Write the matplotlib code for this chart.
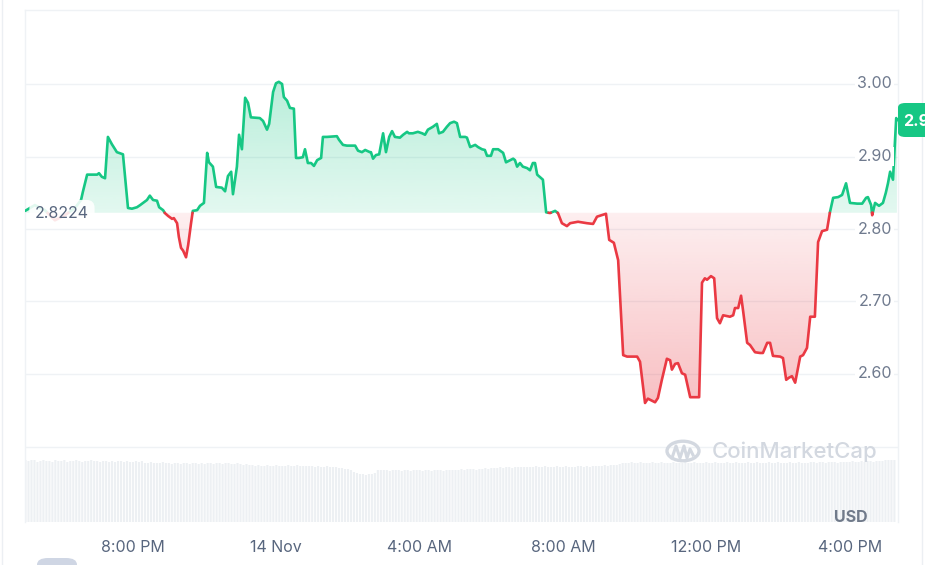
import numpy as np
import matplotlib
matplotlib.use("Agg")
import matplotlib.pyplot as plt
from matplotlib.path import Path
from matplotlib.patches import FancyBboxPatch, Circle
from matplotlib.lines import Line2D

plt.rcParams['font.family'] = ['Inter', 'DejaVu Sans']

# price data, time in hours since 13 Nov 00:00
times = [16.99, 17.26, 17.54, 17.82, 18.10, 18.38, 18.55, 18.60, 18.72, 19.00,
         19.05, 19.13, 19.22, 19.30, 19.41, 19.55, 19.72, 19.86, 19.97, 20.11,
         20.20, 20.28, 20.39, 20.47, 20.56, 20.67, 20.73, 20.84, 20.89, 20.98,
         21.09, 21.14, 21.23, 21.28, 21.34, 21.40, 21.48, 21.54, 21.62, 21.67,
         21.79, 21.87, 21.98, 22.07, 22.12, 22.23, 22.32, 22.48, 22.57, 22.65,
         22.74, 22.79, 22.90, 22.96, 23.04, 23.13, 23.21, 23.29, 23.54, 23.63,
         23.74, 23.80, 23.91, 23.99, 24.07, 24.16, 24.21, 24.30, 24.38, 24.49,
         24.55, 24.63, 24.74, 24.80, 24.88, 24.97, 25.05, 25.14, 25.25, 25.30,
         25.41, 25.69, 25.75, 25.86, 25.97, 26.20, 26.28, 26.39, 26.48, 26.61,
         26.64, 26.70, 26.78, 26.87, 26.98, 27.06, 27.15, 27.23, 27.31, 27.45,
         27.54, 27.65, 27.70, 27.81, 27.95, 28.07, 28.15, 28.23, 28.37, 28.48,
         28.54, 28.65, 28.76, 28.85, 28.96, 29.04, 29.13, 29.27, 29.32, 29.41,
         29.55, 29.63, 29.74, 29.82, 29.88, 29.99, 30.05, 30.19, 30.33, 30.41,
         30.49, 30.61, 30.66, 30.72, 30.80, 30.88, 31.00, 31.08, 31.16, 31.22,
         31.28, 31.44, 31.53, 31.64, 31.78, 31.86, 31.97, 32.11, 32.20, 32.42,
         32.67, 32.84, 32.95, 33.20, 33.29, 33.42, 33.54, 33.68, 33.79, 34.07,
         34.15, 34.29, 34.37, 34.57, 34.65, 34.76, 34.90, 34.99, 35.04, 35.13,
         35.21, 35.32, 35.41, 35.55, 35.80, 35.88, 35.96, 36.02, 36.13, 36.22,
         36.30, 36.38, 36.47, 36.66, 36.75, 36.80, 36.89, 36.97, 37.03, 37.14,
         37.22, 37.36, 37.50, 37.58, 37.70, 37.78, 37.86, 38.06, 38.14, 38.23,
         38.31, 38.39, 38.48, 38.62, 38.70, 38.81, 38.90, 39.03, 39.12, 39.23,
         39.37, 39.45, 39.54, 39.68, 39.79, 39.90, 40.01, 40.21, 40.35, 40.46,
         40.51, 40.60, 40.63, 40.71, 40.82, 40.93, 41.01, 41.07, 41.13, 41.21,
         41.30, 41.32]

prices = [2.825, 2.833, 2.826, 2.812, 2.819, 2.829, 2.840, 2.851, 2.875, 2.875,
          2.877, 2.872, 2.870, 2.927, 2.917, 2.906, 2.903, 2.829, 2.828, 2.830,
          2.833, 2.836, 2.840, 2.846, 2.840, 2.839, 2.830, 2.826, 2.822, 2.818,
          2.814, 2.815, 2.808, 2.789, 2.774, 2.770, 2.761, 2.778, 2.808, 2.825,
          2.826, 2.832, 2.836, 2.905, 2.892, 2.886, 2.858, 2.857, 2.852, 2.873,
          2.879, 2.848, 2.886, 2.930, 2.910, 2.981, 2.974, 2.954, 2.953, 2.949,
          2.937, 2.945, 2.989, 3.001, 3.003, 3.000, 2.982, 2.977, 2.967, 2.966,
          2.898, 2.898, 2.899, 2.910, 2.891, 2.891, 2.887, 2.895, 2.898, 2.927,
          2.927, 2.928, 2.923, 2.916, 2.915, 2.915, 2.908, 2.906, 2.909, 2.906,
          2.906, 2.897, 2.902, 2.903, 2.932, 2.906, 2.927, 2.935, 2.927, 2.926,
          2.930, 2.934, 2.932, 2.932, 2.934, 2.932, 2.930, 2.937, 2.941, 2.945,
          2.932, 2.934, 2.941, 2.946, 2.948, 2.946, 2.927, 2.927, 2.926, 2.913,
          2.916, 2.913, 2.910, 2.909, 2.901, 2.901, 2.910, 2.910, 2.905, 2.892,
          2.894, 2.897, 2.895, 2.886, 2.891, 2.886, 2.884, 2.881, 2.891, 2.891,
          2.875, 2.868, 2.823, 2.822, 2.825, 2.822, 2.808, 2.804, 2.808, 2.810,
          2.808, 2.807, 2.817, 2.821, 2.785, 2.781, 2.757, 2.626, 2.624, 2.624,
          2.617, 2.560, 2.566, 2.561, 2.567, 2.592, 2.621, 2.619, 2.606, 2.614,
          2.615, 2.601, 2.599, 2.568, 2.568, 2.726, 2.732, 2.730, 2.735, 2.732,
          2.677, 2.670, 2.681, 2.679, 2.681, 2.691, 2.691, 2.708, 2.686, 2.643,
          2.640, 2.630, 2.629, 2.629, 2.643, 2.643, 2.625, 2.624, 2.622, 2.592,
          2.595, 2.597, 2.588, 2.624, 2.626, 2.636, 2.679, 2.679, 2.782, 2.797,
          2.799, 2.823, 2.843, 2.844, 2.847, 2.863, 2.836, 2.835, 2.835, 2.843,
          2.844, 2.833, 2.819, 2.836, 2.832, 2.836, 2.850, 2.863, 2.879, 2.868,
          2.953, 2.950]

open_price = 2.8224

# 5-minute volume bars (relative units)
volume = [6.2, 6.1, 6.2, 6.2, 6.0, 6.1, 6.2, 6.1, 6.1, 6.0, 6.2, 6.1, 6.1, 6.2, 6.0, 6.1, 6.1, 6.2, 6.1, 6.0, 6.1, 6.1, 6.2, 6.1,
          6.1, 6.0, 6.1, 6.1, 6.0, 6.1, 6.0, 6.1, 6.1, 6.0, 6.1, 6.0, 6.0, 6.1, 6.0, 6.1, 5.9, 5.9, 6.0, 5.9, 5.9, 5.9, 6.0, 5.9,
          5.9, 5.8, 5.9, 5.9, 5.8, 5.9, 5.9, 5.8, 5.9, 5.9, 5.8, 5.9, 5.8, 5.9, 5.9, 5.8, 5.9, 5.9, 5.8, 5.9, 5.9, 5.8, 5.8, 5.9,
          5.8, 5.7, 5.8, 5.7, 5.7, 5.6, 5.7, 5.6, 5.6, 5.7, 5.6, 5.6, 5.7, 5.6, 5.6, 5.6, 5.7, 5.6, 5.6, 5.7, 5.6, 5.6, 5.6, 5.6,
          5.6, 5.5, 5.6, 5.5, 5.5, 5.6, 5.5, 5.5, 5.5, 5.4, 5.4, 5.3, 5.3, 5.2, 5.0, 4.9, 4.8, 4.8, 4.7, 4.8, 4.8, 4.9, 5.2, 5.2,
          5.2, 5.2, 5.1, 5.2, 5.2, 5.2, 5.1, 5.2, 5.2, 5.1, 5.2, 5.2, 5.2, 5.1, 5.2, 5.2, 5.1, 5.2, 5.2, 5.2, 5.1, 5.2, 5.2, 5.2,
          5.2, 5.2, 5.3, 5.2, 5.3, 5.3, 5.3, 5.2, 5.3, 5.3, 5.4, 5.3, 5.4, 5.4, 5.4, 5.5, 5.4, 5.5, 5.5, 5.4, 5.5, 5.5, 5.5, 5.5,
          5.5, 5.5, 5.5, 5.6, 5.5, 5.5, 5.6, 5.5, 5.5, 5.5, 5.6, 5.5, 5.5, 5.6, 5.5, 5.5, 5.5, 5.6, 5.6, 5.5, 5.6, 5.5, 5.6, 5.6,
          5.6, 5.6, 5.7, 5.6, 5.7, 5.7, 5.7, 5.8, 5.9, 5.9, 5.9, 6.0, 5.9, 5.9, 6.0, 5.9, 5.9, 5.9, 6.0, 5.9, 5.9, 6.0, 5.9, 5.9,
          5.9, 6.0, 5.9, 5.9, 5.9, 6.0, 5.9, 5.9, 6.0, 5.9, 5.9, 5.9, 6.0, 5.9, 5.9, 6.0, 5.9, 5.9, 5.9, 6.0, 5.9, 5.9, 6.0, 5.9,
          5.9, 5.9, 6.0, 5.9, 5.9, 6.0, 5.9, 5.9, 5.9, 6.0, 5.9, 5.9, 6.0, 5.9, 5.9, 5.9, 6.0, 5.9, 5.9, 6.0, 5.9, 5.9, 5.9, 6.0,
          6.0, 5.9, 6.0, 6.0, 5.9, 6.0, 6.0, 6.0, 5.9, 6.0, 6.0, 6.0, 6.0, 6.1, 6.0, 6.0, 6.1, 6.0, 6.1, 6.1, 6.0, 6.1, 6.1, 6.1,
          6.2, 6.2, 6.2, 6.2]
volume_start = 17.0

y_ticks = [2.60, 2.70, 2.80, 2.90, 3.00]
y_grid = [2.50, 2.60, 2.70, 2.80, 2.90, 3.00]
x_ticks = [20, 24, 28, 32, 36, 40]
x_labels = ["8:00 PM", "14 Nov", "4:00 AM", "8:00 AM", "12:00 PM", "4:00 PM"]

GREEN = '#16c784'
RED = '#ea3943'
GRID = '#eff2f5'
W, H = 925, 565


def fx(px):
    return px / W


def fy(py):
    return 1 - py / H


def split_at_base(t, p, base):
    # add the crossing points so the line can switch colour exactly at the base
    tt, pp = [t[0]], [p[0]]
    for i in range(1, len(t)):
        a, b = p[i - 1] - base, p[i] - base
        if a * b < 0:
            f = a / (a - b)
            tt.append(t[i - 1] + f * (t[i] - t[i - 1]))
            pp.append(base)
        tt.append(t[i])
        pp.append(p[i])
    return np.array(tt), np.array(pp)


def gradient_fill(ax, t, lo, hi, color, a_lo, a_hi, ylo, yhi):
    poly = ax.fill_between(t, lo, hi, facecolor='none', edgecolor='none')
    path = Path.make_compound_path(*poly.get_paths())
    rgba = np.zeros((256, 1, 4))
    rgba[..., :3] = matplotlib.colors.to_rgb(color)
    rgba[:, 0, 3] = np.linspace(a_lo, a_hi, 256)
    im = ax.imshow(rgba, extent=[t[0], t[-1], ylo, yhi], origin='lower',
                   aspect='auto', interpolation='bilinear', zorder=1)
    im.set_clip_path(path, transform=ax.transData)


fig = plt.figure(figsize=(9.25, 5.65), dpi=100)

x0, x1 = 16.986, 41.35
ax_left, ax_right, ax_top, ax_bot = 25, 898, 9.5, 522

# volume axes
axv = fig.add_axes([fx(ax_left), fy(ax_bot), fx(ax_right) - fx(ax_left), (ax_bot - 446) / H])
vt = volume_start + np.arange(len(volume)) * 5 / 60
axv.bar(vt, volume, width=0.058, color='#edf0f3', align='center', linewidth=0, snap=False)
axv.set_xlim(x0, x1)
axv.set_ylim(0, 7.6)
for s in axv.spines.values():
    s.set_visible(False)
axv.set_yticks([])
axv.set_xticks(x_ticks)
axv.set_xticklabels(x_labels)
axv.tick_params(axis='x', length=0, pad=13, labelsize=11.5, labelcolor='#58667e')

# price axes
ax = fig.add_axes([fx(ax_left), fy(ax_bot), fx(ax_right) - fx(ax_left), fy(ax_top) - fy(ax_bot)])
ax.patch.set_alpha(0)
y_bot = 3.0 - (ax_bot - 84) / 725
y_top = 3.0 + (84 - ax_top) / 725
ax.set_xlim(x0, x1)
ax.set_ylim(y_bot, y_top)
for s in ['left', 'right', 'top']:
    ax.spines[s].set_color(GRID)
    ax.spines[s].set_linewidth(1.0)
ax.spines['bottom'].set_visible(False)
ax.set_xticks([])
ax.set_yticks([])
for g in y_grid:
    ax.axhline(g, color=GRID, lw=1.0, zorder=0)

t, p = split_at_base(np.array(times), np.array(prices), open_price)

gradient_fill(ax, t, np.maximum(p, open_price), open_price, GREEN, 0.12, 0.30,
              open_price, max(prices))
gradient_fill(ax, t, np.minimum(p, open_price), open_price, RED, 0.32, 0.08,
              min(prices), open_price)

eps = 1e-9
ax.plot(t, np.where(p >= open_price - eps, p, np.nan), color=GREEN, lw=1.9,
        solid_joinstyle='round', solid_capstyle='round', zorder=3)
ax.plot(t, np.where(p <= open_price + eps, p, np.nan), color=RED, lw=1.9,
        solid_joinstyle='round', solid_capstyle='round', zorder=3)

# right-side price labels
for v in y_ticks:
    ax.annotate(f"{v:.2f}", xy=(1, v), xycoords=('axes fraction', 'data'),
                xytext=(-6, 0), textcoords='offset pixels', ha='right', va='center',
                fontsize=11.5, color='#6f7a8e', zorder=5,
                bbox=dict(boxstyle='square,pad=0.15', fc='white', ec='none'))

# open price label
fig.text(fx(35), fy(213), f"{open_price:.4f}", ha='left', va='center', fontsize=11.5,
         color='#58667e', zorder=6,
         bbox=dict(boxstyle='round,pad=0.35,rounding_size=0.5', fc='white', ec='none', alpha=0.88))

# current price badge (cut by the edge, as in the source screenshot)
badge = FancyBboxPatch((fx(898), fy(137)), fx(60), fy(103) - fy(137),
                       boxstyle='round,pad=0,rounding_size=0.008', transform=fig.transFigure,
                       fc=GREEN, ec='none', zorder=7)
fig.patches.append(badge)
fig.text(fx(903), fy(121), f"{prices[-1]:.4f}", ha='left', va='center', fontsize=11.5,
         color='white', fontweight='bold', zorder=8)

fig.text(fx(868), fy(517), "USD", ha='right', va='center', fontsize=11.5,
         color='#707a8a', fontweight='bold')

# watermark
wm = '#d3d8e0'
logo = Circle((fx(683), fy(451)), fx(16), transform=fig.transFigure, fill=False,
              ec=wm, lw=2.4)
fig.patches.append(logo)
wave_x = [672, 676, 680, 684, 687, 690, 693]
wave_y = [458, 446, 458, 446, 458, 449, 455]
fig.lines.append(Line2D([fx(v) for v in wave_x], [fy(v) for v in wave_y],
                        transform=fig.transFigure, color=wm, lw=2.2,
                        solid_joinstyle='round'))
fig.text(fx(712), fy(452), "CoinMarketCap", ha='left', va='center', fontsize=16,
         color=wm, fontweight='medium')

# card edges and the partly visible control at the bottom
for xe in [1.5, 921.5]:
    fig.lines.append(Line2D([fx(xe), fx(xe)], [0, 1], transform=fig.transFigure,
                            color='#eceff3', lw=1.0))
ctrl = FancyBboxPatch((fx(37), fy(572)), fx(40), fy(558) - fy(572),
                      boxstyle='round,pad=0,rounding_size=0.012', transform=fig.transFigure,
                      fc='#cfd6e4', ec='none')
fig.patches.append(ctrl)

fig.savefig('out.png', dpi=100, facecolor='white')
